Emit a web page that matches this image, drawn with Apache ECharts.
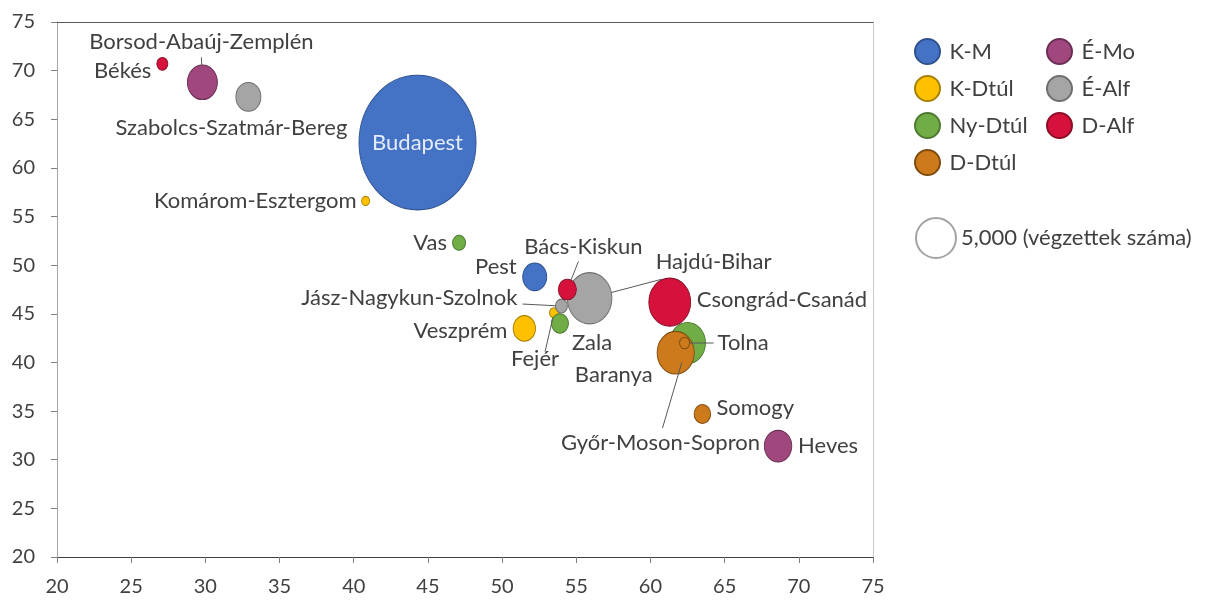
<!DOCTYPE html>
<html>
<head>
<meta charset="utf-8">
<script src="https://cdn.jsdelivr.net/npm/echarts@6/dist/echarts.min.js"></script>
<style>
  html, body { margin: 0; padding: 0; background: #ffffff; }
  #chart { width: 1207px; height: 604px; }
</style>
</head>
<body>
<div id="chart"></div>
<script>
// regions (legend order, also drawing order)
const regions = ['K-M', 'K-Dtúl', 'Ny-Dtúl', 'D-Dtúl', 'É-Mo', 'É-Alf', 'D-Alf'];

// counties with their region, x, y and number of graduates
const counties = [
  'Budapest', 'Pest',
  'Komárom-Esztergom', 'Fejér', 'Veszprém',
  'Vas', 'Zala', 'Győr-Moson-Sopron',
  'Baranya', 'Tolna', 'Somogy',
  'Borsod-Abaúj-Zemplén', 'Heves',
  'Szabolcs-Szatmár-Bereg', 'Hajdú-Bihar', 'Jász-Nagykun-Szolnok',
  'Békés', 'Bács-Kiskun', 'Csongrád-Csanád'
];
const countyRegion = [
  'K-M', 'K-M',
  'K-Dtúl', 'K-Dtúl', 'K-Dtúl',
  'Ny-Dtúl', 'Ny-Dtúl', 'Ny-Dtúl',
  'D-Dtúl', 'D-Dtúl', 'D-Dtúl',
  'É-Mo', 'É-Mo',
  'É-Alf', 'É-Alf', 'É-Alf',
  'D-Alf', 'D-Alf', 'D-Alf'
];
const xValues = [
  44.3, 52.2,
  40.8, 53.5, 51.5,
  47.1, 53.9, 62.5,
  61.7, 62.3, 63.5,
  29.8, 68.6,
  32.9, 55.9, 54.0,
  27.1, 54.4, 61.3
];
const yValues = [
  62.6, 48.8,
  56.6, 45.1, 43.5,
  52.3, 44.0, 42.0,
  41.0, 42.0, 34.7,
  68.8, 31.4,
  67.3, 46.6, 45.8,
  70.7, 47.5, 46.2
];
const graduates = [
  42800, 1800,
  200, 250, 1550,
  530, 900, 4000,
  4300, 310, 850,
  2810, 2350,
  1950, 6200, 450,
  380, 1010, 5450
];
const refSize = 5000;
const refName = '5,000 (végzettek száma)';

// styling
const FONT = 'Lato, "Open Sans", sans-serif';
const TEXT_COLOR = '#404040';
const LABEL_SIZE = 22;
const ELLIPSE = 'path://M0,50 A50,50 0 1,1 100,50 A50,50 0 1,1 0,50 Z';
const REF_WIDTH = 40;      // pixel width of the 5,000 bubble
const STRETCH = 1.15;      // bubbles are drawn a bit taller than wide
const regionColors = {
  'K-M': ['#4472c4', '#2f528f'],
  'K-Dtúl': ['#ffc000', '#a68000'],
  'Ny-Dtúl': ['#70ad47', '#4e7a31'],
  'D-Dtúl': ['#cc7a1c', '#7f4c10'],
  'É-Mo': ['#a0487e', '#6b2f55'],
  'É-Alf': ['#a5a5a5', '#6e6e6e'],
  'D-Alf': ['#d6123c', '#8c0e28']
};
// label offset from bubble centre [dx, dy, align]
const labelPlace = {
  'Budapest': [0, 0, 'center'],
  'Békés': [-11, 7, 'right'],
  'Borsod-Abaúj-Zemplén': [-1, -40, 'center'],
  'Szabolcs-Szatmár-Bereg': [-17, 31, 'center'],
  'Komárom-Esztergom': [-9, 0, 'right'],
  'Vas': [-12, 0, 'right'],
  'Pest': [-18, -10, 'right'],
  'Bács-Kiskun': [16, -43, 'center'],
  'Jász-Nagykun-Szolnok': [-44, -8, 'right'],
  'Hajdú-Bihar': [66, -36, 'left'],
  'Fejér': [-19, 46, 'center'],
  'Zala': [12, 19, 'left'],
  'Veszprém': [-17, 2, 'right'],
  'Csongrád-Csanád': [27, -2, 'left'],
  'Tolna': [33, 0, 'left'],
  'Baranya': [-23, 22, 'right'],
  'Győr-Moson-Sopron': [-27, 100, 'center'],
  'Somogy': [14, -6, 'left'],
  'Heves': [20, 0, 'left']
};
// leader line end, relative to bubble centre
const leaderEnds = {
  'Borsod-Abaúj-Zemplén': [-1, -25],
  'Bács-Kiskun': [11, -28],
  'Jász-Nagykun-Szolnok': [-39, -2],
  'Hajdú-Bihar': [72, -19],
  'Fejér': [-9, 39],
  'Tolna': [29, 0],
  'Győr-Moson-Sopron': [-25, 85]
};
const leaderCounties = counties.filter(name => leaderEnds[name]);

function bubbleSize(value) {
  const w = REF_WIDTH * Math.sqrt(value[2] / refSize);
  return [w, w * STRETCH];
}

function placeLabel(params) {
  const place = labelPlace[params.text];
  if (!place) {
    return {};
  }
  const r = params.rect;
  return {
    x: r.x + r.width / 2 + place[0],
    y: r.y + r.height / 2 + place[1],
    align: place[2],
    verticalAlign: 'middle'
  };
}

const series = regions.map(region => {
  const data = [];
  counties.forEach((name, i) => {
    if (countyRegion[i] !== region) {
      return;
    }
    const item = {
      name: name,
      value: [xValues[i], yValues[i], graduates[i]]
    };
    if (name === 'Budapest') {
      item.label = { color: '#e3ecf8' };
    }
    data.push(item);
  });
  return {
    name: region,
    type: 'scatter',
    symbol: ELLIPSE,
    symbolSize: bubbleSize,
    data: data,
    itemStyle: {
      color: regionColors[region][0],
      borderColor: regionColors[region][1],
      borderWidth: 1,
      opacity: 1
    },
    label: {
      show: true,
      position: 'inside',
      formatter: '{b}',
      color: TEXT_COLOR,
      fontFamily: FONT,
      fontSize: LABEL_SIZE
    },
    labelLayout: placeLabel,
    emphasis: { disabled: true }
  };
});

// leader lines from the bubble edge towards its label
series.push({
  name: 'leaders',
  type: 'custom',
  coordinateSystem: 'cartesian2d',
  silent: true,
  z: 3,
  data: leaderCounties.map(name => {
    const i = counties.indexOf(name);
    return [xValues[i], yValues[i], graduates[i]];
  }),
  renderItem: (params, api) => {
    const end = leaderEnds[leaderCounties[params.dataIndex]];
    const c = api.coord([api.value(0), api.value(1)]);
    const size = bubbleSize([0, 0, api.value(2)]);
    const a = size[0] / 2;
    const b = size[1] / 2;
    const t = 1 / Math.sqrt((end[0] / a) ** 2 + (end[1] / b) ** 2);
    return {
      type: 'line',
      shape: {
        x1: c[0] + end[0] * t,
        y1: c[1] + end[1] * t,
        x2: c[0] + end[0],
        y2: c[1] + end[1]
      },
      style: { stroke: '#595959', lineWidth: 1 }
    };
  }
});

// empty series only used for the size key in the legend
series.push({
  name: refName,
  type: 'scatter',
  data: [],
  itemStyle: { color: '#ffffff', borderColor: '#8c8c8c', borderWidth: 1 }
});

const legendText = { color: TEXT_COLOR, fontFamily: FONT, fontSize: LABEL_SIZE, lineHeight: 24 };

const chart = echarts.init(document.getElementById('chart'), null, { renderer: 'canvas' });
chart.setOption({
  animation: false,
  backgroundColor: '#ffffff',
  textStyle: { fontFamily: FONT },
  grid: { left: 57, right: 334, top: 22, bottom: 47, containLabel: false, outerBoundsMode: 'none' },
  xAxis: [
    {
      type: 'value',
      min: 20,
      max: 75,
      interval: 5,
      axisLine: { show: true, onZero: false, lineStyle: { color: '#404040', width: 1 } },
      axisTick: { show: true, length: 6, lineStyle: { color: '#808080' } },
      axisLabel: { color: TEXT_COLOR, fontSize: 20, fontFamily: FONT, margin: 20 },
      splitLine: { show: false }
    },
    {
      type: 'value',
      position: 'top',
      min: 20,
      max: 75,
      axisLine: { show: true, onZero: false, lineStyle: { color: '#595959', width: 1 } },
      axisTick: { show: false },
      axisLabel: { show: false },
      splitLine: { show: false }
    }
  ],
  yAxis: [
    {
      type: 'value',
      min: 20,
      max: 75,
      interval: 5,
      axisLine: { show: true, onZero: false, lineStyle: { color: '#a6a6a6', width: 1 } },
      axisTick: { show: true, length: 6, lineStyle: { color: '#808080' } },
      axisLabel: { color: TEXT_COLOR, fontSize: 20, fontFamily: FONT, margin: 22 },
      splitLine: { show: false }
    },
    {
      type: 'value',
      position: 'right',
      min: 20,
      max: 75,
      axisLine: { show: true, onZero: false, lineStyle: { color: '#c8c8c8', width: 1 } },
      axisTick: { show: false },
      axisLabel: { show: false },
      splitLine: { show: false }
    }
  ],
  legend: [
    {
      data: regions.slice(0, 4),
      orient: 'vertical',
      left: 909,
      top: 33,
      itemWidth: 28,
      itemHeight: 25,
      itemGap: 10,
      icon: ELLIPSE,
      textStyle: Object.assign({ padding: [0, 0, 0, 3] }, legendText),
      selectedMode: false
    },
    {
      data: regions.slice(4),
      orient: 'vertical',
      left: 1041,
      top: 33,
      itemWidth: 28,
      itemHeight: 25,
      itemGap: 10,
      icon: ELLIPSE,
      textStyle: Object.assign({ padding: [0, 0, 0, 3] }, legendText),
      selectedMode: false
    },
    {
      data: [refName],
      orient: 'vertical',
      left: 910,
      top: 212,
      itemWidth: REF_WIDTH,
      itemHeight: REF_WIDTH * STRETCH,
      icon: ELLIPSE,
      textStyle: legendText,
      selectedMode: false
    }
  ],
  series: series
});
</script>
</body>
</html>
